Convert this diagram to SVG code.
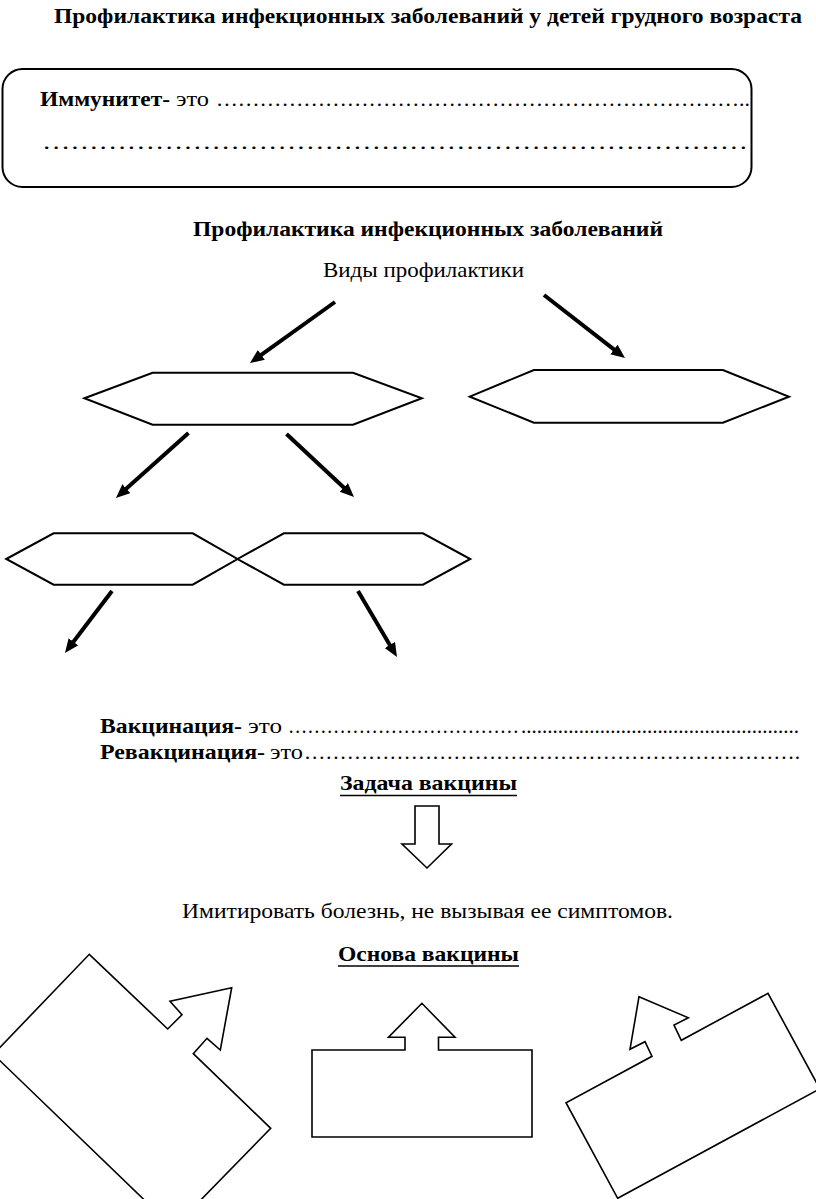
<svg xmlns="http://www.w3.org/2000/svg" width="816" height="1199" viewBox="0 0 816 1199">
<style>
text{font-family:"Liberation Serif","Times New Roman",serif;font-size:21px;fill:#000}
.b{font-weight:bold}
.shape{fill:none;stroke:#000;stroke-width:2;stroke-linejoin:miter}
.thin{fill:none;stroke:#000;stroke-width:1.6}
.conn{stroke:#000;stroke-width:4;fill:none}
.ul{stroke:#000;stroke-width:1.6}
</style>
<defs>
<marker id="ah" markerUnits="userSpaceOnUse" markerWidth="16" markerHeight="14" refX="4" refY="6" orient="auto">
<path d="M0,0 L14,6 L0,12 z" fill="#000"/>
</marker>
</defs>
<rect width="816" height="1199" fill="#fff"/>

<g id="title">
<text class="b" x="54" y="23" textLength="748" lengthAdjust="spacingAndGlyphs">Профилактика инфекционных заболеваний у детей грудного возраста</text>
</g>

<g id="immunity-box">
<rect class="shape" x="2.5" y="69" width="749" height="118" rx="20" ry="20"/>
<text class="b" x="40" y="106" textLength="130" lengthAdjust="spacingAndGlyphs">Иммунитет-</text>
<text x="176" y="106" textLength="33" lengthAdjust="spacingAndGlyphs">это</text>
<text x="216" y="106" textLength="534" lengthAdjust="spacingAndGlyphs">………………………………………………………………..</text>
<text x="42" y="149" textLength="706" lengthAdjust="spacingAndGlyphs">…………………………………………………………………</text>
</g>

<g id="heading2">
<text class="b" x="193" y="236" textLength="470" lengthAdjust="spacingAndGlyphs">Профилактика инфекционных заболеваний</text>
</g>
<g id="types">
<text x="323" y="277" textLength="201" lengthAdjust="spacingAndGlyphs">Виды профилактики</text>
</g>

<g id="hex1"><polygon class="shape" points="84.4,398.3 152.6,372.7 353,372.7 421.9,398.3 353,424.7 152.6,424.7"/></g>
<g id="hex2"><polygon class="shape" points="469.8,396.7 533.9,370 722.9,370 789,396.7 722.9,422.7 533.9,422.7"/></g>
<g id="hex3"><polygon class="shape" points="6.25,559 53.6,533.3 192.7,533.3 237.5,559 192.7,584.7 53.6,584.7"/></g>
<g id="hex4"><polygon class="shape" points="237.5,559 283.9,533.3 422.9,533.3 470.3,559 422.9,584.7 283.9,584.7"/></g>

<g id="connectors">
<line class="conn" x1="335" y1="302" x2="258.1" y2="357.2" marker-end="url(#ah)"/>
<line class="conn" x1="544" y1="295" x2="617.1" y2="351.9" marker-end="url(#ah)"/>
<line class="conn" x1="188.5" y1="433" x2="123.4" y2="491.3" marker-end="url(#ah)"/>
<line class="conn" x1="286.5" y1="434" x2="346.7" y2="490.2" marker-end="url(#ah)"/>
<line class="conn" x1="112" y1="591" x2="71" y2="645" marker-end="url(#ah)"/>
<line class="conn" x1="358" y1="591" x2="391.9" y2="648.4" marker-end="url(#ah)"/>
</g>

<g id="definitions">
<text class="b" x="100" y="733" textLength="142" lengthAdjust="spacingAndGlyphs">Вакцинация-</text>
<text x="248" y="733" textLength="34" lengthAdjust="spacingAndGlyphs">это</text>
<text x="288" y="733" textLength="231" lengthAdjust="spacingAndGlyphs">………………………………</text>
<text x="521" y="733" textLength="278" lengthAdjust="spacingAndGlyphs">.....................................................</text>
<text class="b" x="100" y="759" textLength="165" lengthAdjust="spacingAndGlyphs">Ревакцинация-</text>
<text x="270" y="759" textLength="33" lengthAdjust="spacingAndGlyphs">это</text>
<text x="304" y="759" textLength="496" lengthAdjust="spacingAndGlyphs">…………………………………………………………….</text>
</g>

<g id="task">
<text class="b" x="340" y="790" textLength="177" lengthAdjust="spacingAndGlyphs">Задача вакцины</text>
<line class="ul" x1="340" y1="795.5" x2="517" y2="795.5"/>
</g>

<g id="down-arrow">
<polygon class="thin" points="415,806 439,806 439,844 451.5,844 427,868 402,844 415,844"/>
</g>

<g id="imitate">
<text x="182" y="918" textLength="491" lengthAdjust="spacingAndGlyphs">Имитировать болезнь, не вызывая ее симптомов.</text>
</g>

<g id="basis">
<text class="b" x="338" y="961" textLength="181" lengthAdjust="spacingAndGlyphs">Основа вакцины</text>
<line class="ul" x1="338" y1="966" x2="519" y2="966"/>
</g>

<g id="left-callout">
<polygon class="thin" points="89.3,954.3 167.7,1029 182,1014.7 170,1001.3 231.7,987.7 220.3,1050 207,1038.3 193.3,1053.7 270.7,1128.3 173.4,1228 -6.7,1054.3"/>
</g>
<g id="center-callout">
<polygon class="thin" points="312,1050 405,1050 405,1037.3 388.5,1037.3 421.9,1003.3 455,1037.3 438.5,1037.3 438.5,1050 532,1050 532,1137 312,1137"/>
</g>
<g id="right-callout">
<polygon class="thin" points="639,996.7 688.3,1017.7 674,1025 681.3,1040.3 768,993.3 819.8,1088.8 617.7,1198.3 566,1102.7 652,1056.3 645,1041.7 630,1049.3"/>
</g>
</svg>
